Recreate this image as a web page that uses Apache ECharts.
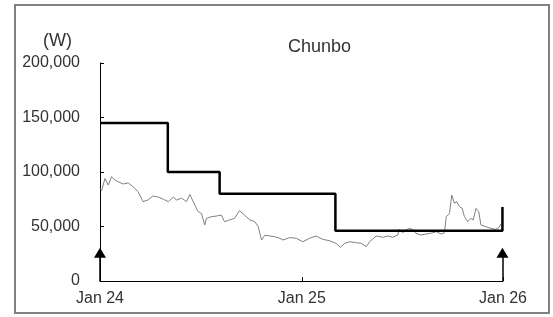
<!DOCTYPE html>
<html>
<head>
<meta charset="utf-8">
<script src="https://cdn.jsdelivr.net/npm/echarts@6/dist/echarts.min.js"></script>
<style>
  html, body { margin: 0; padding: 0; background: #fff; }
  #chart { width: 553px; height: 317px; }
</style>
</head>
<body>
<div id="chart"></div>
<script>
// stock price (daily close)
const priceDates = [
  '2024-01-01', '2024-01-04', '2024-01-10', '2024-01-16', '2024-01-22', '2024-01-28',
  '2024-02-03', '2024-02-12', '2024-02-21', '2024-03-01', '2024-03-10', '2024-03-19',
  '2024-03-28', '2024-04-06', '2024-04-16', '2024-04-25', '2024-05-04', '2024-05-13',
  '2024-05-19', '2024-05-28', '2024-06-06', '2024-06-12', '2024-06-18', '2024-06-27',
  '2024-07-03', '2024-07-09', '2024-07-12', '2024-07-21', '2024-07-30', '2024-08-08',
  '2024-08-14', '2024-08-23', '2024-09-01', '2024-09-10', '2024-09-19', '2024-09-29',
  '2024-10-08', '2024-10-14', '2024-10-20', '2024-10-26', '2024-11-04', '2024-11-13',
  '2024-11-22', '2024-11-28', '2024-12-10', '2024-12-22',
  '2025-01-03', '2025-01-15', '2025-01-27', '2025-02-08', '2025-02-20', '2025-03-04',
  '2025-03-12', '2025-03-20', '2025-03-29', '2025-04-10', '2025-04-19', '2025-04-28',
  '2025-05-04', '2025-05-16', '2025-05-28', '2025-06-06', '2025-06-15', '2025-06-24',
  '2025-06-27', '2025-07-03', '2025-07-09', '2025-07-15', '2025-07-21', '2025-07-27',
  '2025-08-05', '2025-08-14', '2025-08-23', '2025-09-02', '2025-09-11', '2025-09-17',
  '2025-09-20', '2025-09-26', '2025-09-30', '2025-10-05', '2025-10-09', '2025-10-14',
  '2025-10-19', '2025-10-23', '2025-10-29', '2025-11-04', '2025-11-08', '2025-11-13',
  '2025-11-18', '2025-11-22', '2025-12-01', '2025-12-10', '2025-12-19', '2025-12-25',
  '2025-12-28'
];
const priceValues = [
  85000, 83000, 94000, 88000, 95700, 92700,
  91000, 89000, 90000, 86500, 82000, 72800,
  74300, 78000, 77000, 75000, 72800, 77000,
  74300, 76000, 72800, 79500, 72800, 63600,
  62000, 51400, 57500, 59000, 59600, 60500,
  54400, 56000, 57500, 64500, 60500, 56000,
  54400, 49800, 37600, 42000, 41300, 40600,
  39200, 37600, 39800, 39200,
  36000, 39200, 41300, 38200, 37000, 34600,
  30900, 34600, 36000, 35100, 34600, 31500,
  36000, 41300, 40100, 41300, 40100, 42200,
  47400, 44300, 46800, 48300, 47400, 43800,
  42200, 43100, 43800, 45200, 43100, 44300,
  59000, 62000, 78900, 71300, 72800, 68200,
  66700, 59000, 54400, 57500, 56000, 66700,
  63600, 51400, 49800, 48300, 47400, 49300,
  52300
];

// target price changes
const targetDates = ['2024-01-01', '2024-05-03', '2024-08-05', '2025-03-03', '2025-12-31'];
const targetValues = [145000, 100000, 80000, 46000, 68000];

// rating arrows
const arrowDates = ['2024-01-01', '2025-12-31'];

const yTicks = [0, 50000, 100000, 150000, 200000];

const chart = echarts.init(document.getElementById('chart'));
const font = 'Liberation Sans, Arial, sans-serif';

chart.setOption({
  animation: false,
  title: {
    text: 'Chunbo',
    left: 283,
    top: 33,
    textStyle: { fontFamily: font, fontSize: 18, fontWeight: 'normal', color: '#333' }
  },
  graphic: [
    {
      type: 'rect',
      shape: { x: 15, y: 5, width: 534, height: 308 },
      style: { fill: 'none', stroke: '#808080', lineWidth: 2 },
      silent: true
    },
    {
      type: 'text',
      left: 43,
      top: 32,
      style: { text: '(W)', fontFamily: font, fontSize: 18, fill: '#333' }
    }
  ],
  grid: { left: 100, right: 50, top: 63, bottom: 36 },
  xAxis: {
    type: 'time',
    min: '2024-01-01',
    max: '2026-01-01',
    minInterval: 365 * 86400000,
    maxInterval: 366 * 86400000,
    axisLine: { lineStyle: { color: '#000', width: 1 } },
    axisTick: { inside: true, length: 4, lineStyle: { color: '#000' } },
    axisLabel: {
      formatter: '{MMM} {yy}',
      showMinLabel: true,
      showMaxLabel: true,
      margin: 10,
      fontFamily: font,
      fontSize: 16,
      color: '#333'
    },
    splitLine: { show: false }
  },
  yAxis: {
    type: 'value',
    min: yTicks[0],
    max: yTicks[yTicks.length - 1],
    interval: yTicks[1] - yTicks[0],
    axisLine: { show: true, lineStyle: { color: '#000', width: 1 } },
    axisTick: { show: true, inside: true, length: 4, lineStyle: { color: '#000' } },
    axisLabel: {
      formatter: v => v.toLocaleString('en-US'),
      margin: 20,
      fontFamily: font,
      fontSize: 16,
      color: '#333'
    },
    splitLine: { show: false }
  },
  series: [
    {
      name: 'price',
      type: 'line',
      data: priceDates.map((d, i) => [d, priceValues[i]]),
      showSymbol: false,
      lineStyle: { color: '#808080', width: 1 },
      z: 2
    },
    {
      name: 'target',
      type: 'line',
      step: 'end',
      data: targetDates.map((d, i) => [d, targetValues[i]]),
      showSymbol: false,
      lineStyle: { color: '#000', width: 2.5 },
      z: 3,
      markLine: {
        silent: true,
        symbol: ['none', 'triangle'],
        symbolSize: [12, 10],
        label: { show: false },
        lineStyle: { color: '#000', width: 1.5, type: 'solid' },
        itemStyle: { color: '#000' },
        data: arrowDates.map(d => [{ coord: [d, 0] }, { coord: [d, 26000] }])
      }
    }
  ]
});
</script>
</body>
</html>
